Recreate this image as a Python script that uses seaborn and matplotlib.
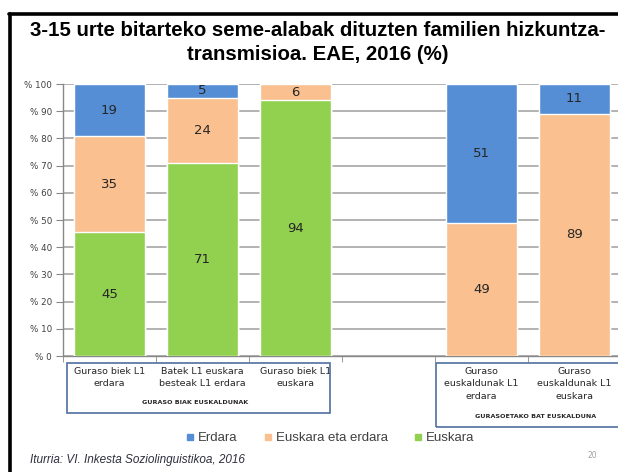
import numpy as np
import pandas as pd
import matplotlib
matplotlib.use("Agg")
import matplotlib.pyplot as plt
import matplotlib.transforms as mtrans
from matplotlib.patches import Rectangle
from matplotlib.lines import Line2D
import seaborn as sns

# data (percent, each bar is shown as 100% stacked)
categories = ["Guraso biek L1\nerdara",
              "Batek L1 euskara\nbesteak L1 erdara",
              "Guraso biek L1\neuskara",
              "Guraso\neuskaldunak L1\nerdara",
              "Guraso\neuskaldunak L1\neuskara"]
erdara = [19, 5, 0, 51, 11]
mixed = [35, 24, 6, 49, 89]
euskara = [45, 71, 94, 0, 0]
series_names = ["Erdara", "Euskara eta erdara", "Euskara"]
group_labels = ["GURASO BIAK EUSKALDUNAK", "GURASOETAKO BAT EUSKALDUNA"]
yticks = [0, 10, 20, 30, 40, 50, 60, 70, 80, 90, 100]

BLUE = "#558ED5"
ORANGE = "#FAC090"
GREEN = "#92D050"

W, H = 618, 472
def fx(x):
    return x / W
def fy(y):
    return 1 - y / H

sns.set_style("white")
plt.rcParams["font.family"] = ["DejaVu Sans"]

df = pd.DataFrame({"cat": categories, "erdara": erdara, "mixed": mixed, "euskara": euskara})
tot = df["erdara"] + df["mixed"] + df["euskara"]
df["g_top"] = df["euskara"] / tot * 100
df["o_top"] = (df["euskara"] + df["mixed"]) / tot * 100
df["b_top"] = 100.0
order = categories[:3] + ["(gap)"] + categories[3:]

fig = plt.figure(figsize=(6.18, 4.72), dpi=100)
ax = fig.add_axes([fx(63), fy(356), (621 - 63) / W, (356 - 84) / H])

# stacked bars: draw cumulative tops, biggest first
for col, colr in [("b_top", BLUE), ("o_top", ORANGE), ("g_top", GREEN)]:
    sub = df[df[col] > 0]
    sns.barplot(data=sub, x="cat", y=col, order=order, color=colr,
                width=0.77, edgecolor="white", linewidth=1.0,
                saturation=1, ax=ax, zorder=3)

# value labels
pos = {c: order.index(c) for c in categories}
for i, r in df.iterrows():
    x = pos[r["cat"]]
    segs = [(r["euskara"], 0, r["g_top"]), (r["mixed"], r["g_top"], r["o_top"]),
            (r["erdara"], r["o_top"], 100)]
    for v, lo, hi in segs:
        if v > 0:
            ax.text(x, (lo + hi) / 2, str(v), ha="center", va="center",
                    fontsize=9.5, color="#262626", zorder=5)

ax.set_xlim(-0.5, 5.5)
ax.set_ylim(0, 100)
ax.set_yticks(yticks)
ax.set_yticklabels([f"% {t}" for t in yticks], fontsize=6.3, color="#404040")
ax.set_xticks([])
ax.set_xticks(np.arange(-0.5, 5.6, 1), minor=True)
ax.tick_params(axis="x", which="minor", length=4, color="#888888", direction="out", bottom=True)
ax.tick_params(axis="y", length=5, color="#888888", direction="out", left=True, pad=3)
ax.set_xlabel("")
ax.set_ylabel("")
ax.yaxis.grid(True, color="#A6A6A6", linewidth=1.2, zorder=0)
ax.set_axisbelow(True)
for s in ["top", "right"]:
    ax.spines[s].set_visible(False)
for s in ["left", "bottom"]:
    ax.spines[s].set_color("#888888")
    ax.spines[s].set_linewidth(1.0)

# category labels under the axis
lab_tr = mtrans.blended_transform_factory(ax.transData, fig.transFigure)
for c in categories:
    ax.text(pos[c], fy(367), c, transform=lab_tr,
            ha="center", va="top", fontsize=6.8, color="#262626", linespacing=1.5)

# boxes around label groups
fig.patches.append(Rectangle((fx(67), fy(413)), fx(330) - fx(67), fy(363) - fy(413),
                             transform=fig.transFigure, fill=False,
                             edgecolor="#4F6F9F", linewidth=1.2))
fig.patches.append(Rectangle((fx(436), fy(427)), fx(630) - fx(436), fy(363) - fy(427),
                             transform=fig.transFigure, fill=False,
                             edgecolor="#4F6F9F", linewidth=1.2))
fig.text(fx(195), fy(402), group_labels[0], ha="center", va="center",
         fontsize=4.6, fontweight="bold", color="#262626")
fig.text(fx(536), fy(416), group_labels[1], ha="center", va="center",
         fontsize=4.6, fontweight="bold", color="#262626")

# title
fig.text(fx(318), fy(31), "3-15 urte bitarteko seme-alabak dituzten familien hizkuntza-",
         ha="center", va="center", fontsize=14.7, fontweight="bold",
         family="Liberation Sans", color="black")
fig.text(fx(318), fy(55), "transmisioa. EAE, 2016 (%)",
         ha="center", va="center", fontsize=14.7, fontweight="bold",
         family="Liberation Sans", color="black")

# black frame
fig.lines.append(Line2D([fx(9), 1.0], [fy(14), fy(14)], transform=fig.transFigure,
                        color="black", linewidth=2.6))
fig.lines.append(Line2D([fx(10), fx(10)], [fy(14), 0], transform=fig.transFigure,
                        color="black", linewidth=2.6))

# legend
handles = [Line2D([], [], marker="s", linestyle="none", markersize=4, color=c)
           for c in [BLUE, ORANGE, GREEN]]
leg = fig.legend(handles, series_names, loc="center", bbox_to_anchor=(fx(330), fy(438)),
                 ncol=3, frameon=False, handlelength=0.6, handletextpad=0.3,
                 columnspacing=2.0, prop={"family": "Liberation Sans", "size": 9.5})
for t in leg.get_texts():
    t.set_color("#404040")

# source and page number
fig.text(fx(30), fy(460), "Iturria: VI. Inkesta Soziolinguistikoa, 2016", ha="left",
         va="center", fontsize=8.5, style="italic", family="Liberation Sans",
         color="#2F2F3F")
fig.text(fx(587), fy(456), "20", ha="left", va="center", fontsize=5.5, color="#A0A0A0")

fig.savefig("out.png", dpi=100)
